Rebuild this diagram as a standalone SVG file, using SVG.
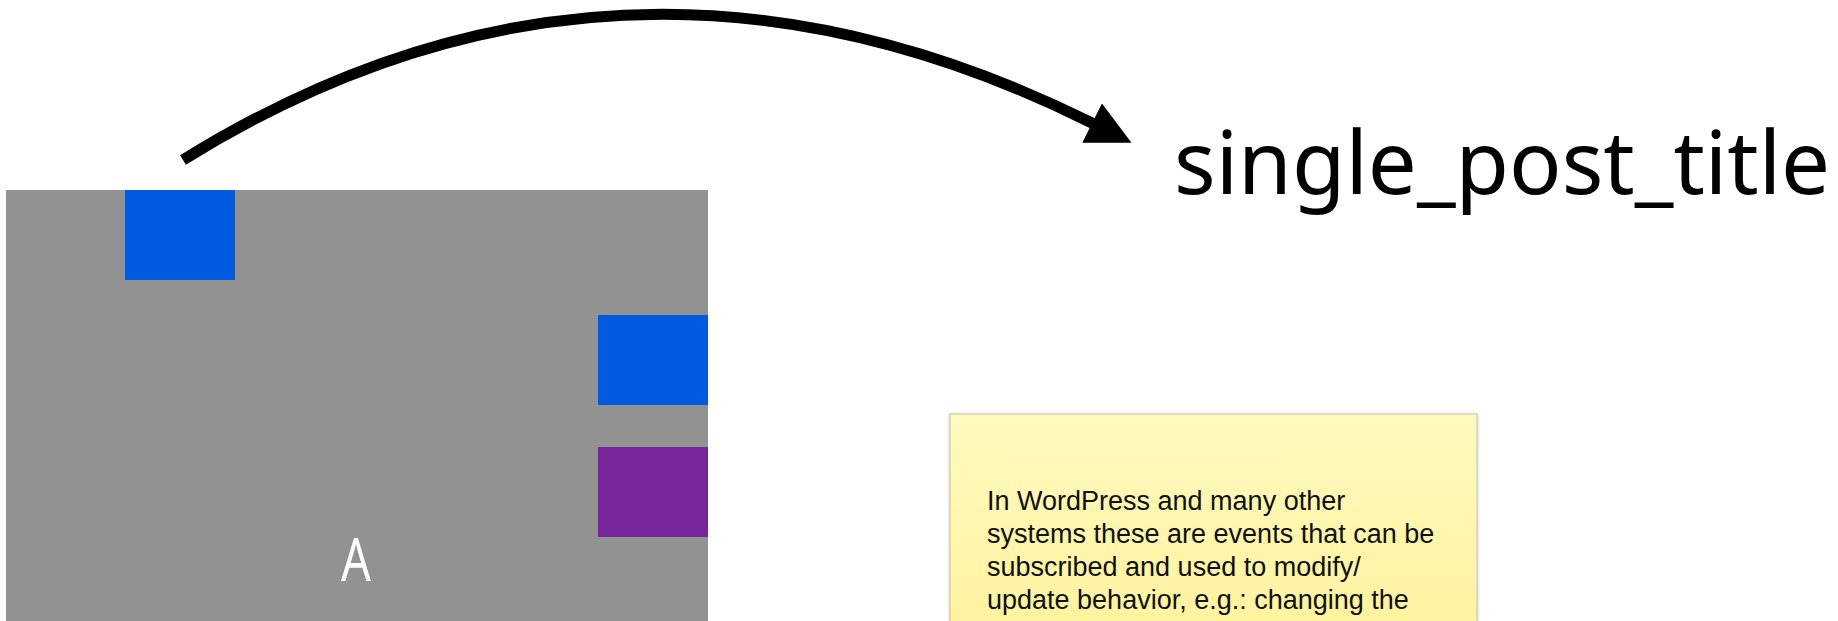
<svg xmlns="http://www.w3.org/2000/svg" width="1838" height="621" viewBox="0 0 1838 621">
  <style>
    .port-in { fill: #005be0; }
    .port-out { fill: #772598; }
    .block { fill: #929292; }
    .block-label { font-family: "Noto Sans", "DejaVu Sans", sans-serif; font-size: 60px; fill: #ffffff; }
    .hook-name { font-family: "Noto Sans", "Open Sans", sans-serif; font-size: 87px; fill: #000000; }
    .note-text { font-family: "Liberation Sans", Arial, Helvetica, sans-serif; font-size: 27px; fill: #111111; }
    .link { fill: none; stroke: #000000; stroke-width: 11; }
  </style>
  <defs>
    <marker id="arrowhead" markerUnits="userSpaceOnUse" viewBox="0 0 44 44" refX="1" refY="22" markerWidth="44" markerHeight="44" orient="auto">
      <path d="M0,0 L44,22 L0,44 Z" fill="#000000"/>
    </marker>
    <linearGradient id="noteFill" x1="0" y1="0" x2="0" y2="1">
      <stop offset="0" stop-color="#fffac0"/>
      <stop offset="1" stop-color="#fff29c"/>
    </linearGradient>
    <filter id="noteShadow" x="-5%" y="-5%" width="110%" height="110%">
      <feDropShadow dx="0" dy="1" stdDeviation="1.5" flood-color="#000000" flood-opacity="0.25"/>
    </filter>
  </defs>

  <!-- component block with its ports -->
  <g id="block-a">
    <rect class="block" x="6" y="190" width="702" height="440"/>
    <text class="block-label" text-anchor="middle" transform="translate(356,581) scale(0.78,1)">A</text>
  </g>
  <g id="port-top">
    <rect class="port-in" x="125" y="190" width="110" height="90"/>
  </g>
  <g id="port-right-1">
    <rect class="port-in" x="598" y="315" width="110" height="90"/>
  </g>
  <g id="port-right-2">
    <rect class="port-out" x="598" y="447" width="110" height="90"/>
  </g>

  <!-- hook name -->
  <g id="hook">
    <text class="hook-name" x="1174" y="194">single_post_title</text>
  </g>

  <!-- sticky note -->
  <g id="note">
    <rect x="950" y="414" width="527" height="230" fill="url(#noteFill)" stroke="#c8c49c" stroke-width="1" filter="url(#noteShadow)"/>
    <text class="note-text" x="987" y="510">In WordPress and many other</text>
    <text class="note-text" x="987" y="543">systems these are events that can be</text>
    <text class="note-text" x="987" y="576">subscribed and used to modify/</text>
    <text class="note-text" x="987" y="609">update behavior, e.g.: changing the</text>
    <text class="note-text" x="987" y="642">post title</text>
  </g>

  <!-- connectors -->
  <g id="connectors">
    <path class="link" d="M183,160 Q621,-112 1093,123.5" marker-end="url(#arrowhead)"/>
  </g>
</svg>
